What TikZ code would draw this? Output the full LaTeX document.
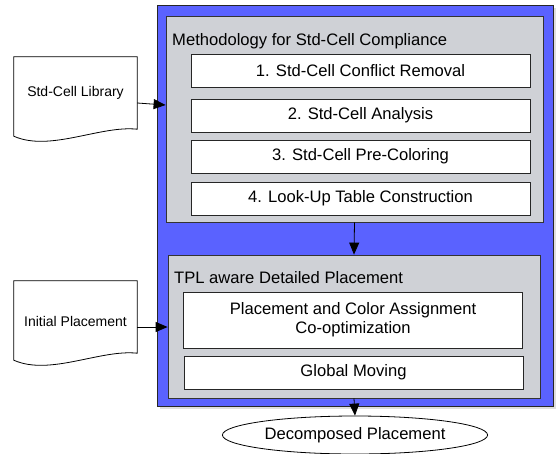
\documentclass[tikz,border=0pt]{standalone}
\usepackage{fontspec}
\setmainfont{Liberation Sans}
\usetikzlibrary{arrows.meta,calc,shapes.geometric,shadows,positioning}
\definecolor{flowblue}{RGB}{90,98,255}
\definecolor{panelgray}{RGB}{207,209,214}

\begin{document}
\begin{tikzpicture}[x=1pt, y=-1pt,
    font=\fontsize{16.6}{19}\selectfont,
    outer/.style={draw=black!85, fill=flowblue, line width=0.8pt,
        drop shadow={shadow xshift=3pt, shadow yshift=-3pt, opacity=0.25}},
    panel/.style={draw=black!80, fill=panelgray, line width=0.8pt},
    stepbox/.style={draw=black!85, fill=white, line width=0.8pt, minimum width=339pt, minimum height=33pt},
    doc/.style={minimum width=123pt, minimum height=72pt},
    doctext/.style={font=\fontsize{14}{17}\selectfont},
    term/.style={ellipse, draw=black, fill=white, line width=0.8pt, minimum width=254pt, minimum height=38pt},
    arr/.style={-{Triangle[length=12pt,width=10pt]}, line width=0.8pt},
    ]
    \useasboundingbox (0,0) rectangle (559,453);

    \node[outer, minimum width=396pt, minimum height=401pt] (blue) at (355,205.5) {};
    \node[panel, minimum width=377pt, minimum height=206pt] (meth) at (354.5,119) {};
    \node[panel, minimum width=372pt, minimum height=143pt] (tpl) at (354,326.5) {};

    \node[anchor=west, inner sep=0pt] (methtitle) at (172,41) {Methodology for Std-Cell Compliance};
    \node[anchor=west, inner sep=0pt] (tpltitle) at (174,278) {TPL aware Detailed Placement};

    \foreach \y/\t [count=\i] in {70.5/{1. Std-Cell Conflict Removal},
        115.5/{2. Std-Cell Analysis},
        156.5/{3. Std-Cell Pre-Coloring},
        198.5/{4. Look-Up Table Construction}}
    \node[stepbox] (s\i) at (360.5,\y) {\t};

    \node[stepbox, minimum height=56pt, align=center] (coopt) at (353,320)
        {Placement and Color Assignment\\Co-optimization};
    \node[stepbox] (moving) at (353.5,372.5) {Global Moving};

    % input documents
    \node[doc] (lib) at (75.5,93) {};
    \node[doc] (init) at (75.5,317) {};
    \foreach \d in {lib,init}
    \draw[line width=0.8pt, fill=white] (\d.north west) -- (\d.north east) -- (\d.south east)
        .. controls +(-37,-4) and +(36,16) .. ($(\d.south west)+(0,7)$) -- cycle;
    \node[doctext] (libtext) at (lib) {Std-Cell Library};
    \node[doctext] (inittext) at ($(init)+(0,4)$) {Initial Placement};

    \node[term] (out) at (355,435) {Decomposed Placement};

    \draw[arr] ($(lib.east)+(0,10)$) -- ($(lib.east -| meth.west)+(0,12)$);
    \draw[arr] ($(init.east)+(0,10)$) -- ($(init.east -| tpl.west)+(0,10)$);
    \draw[arr] (meth.south) -- (tpl.north);
    \draw[arr] (tpl.south) -- (out.north);

\end{tikzpicture}
\end{document}
